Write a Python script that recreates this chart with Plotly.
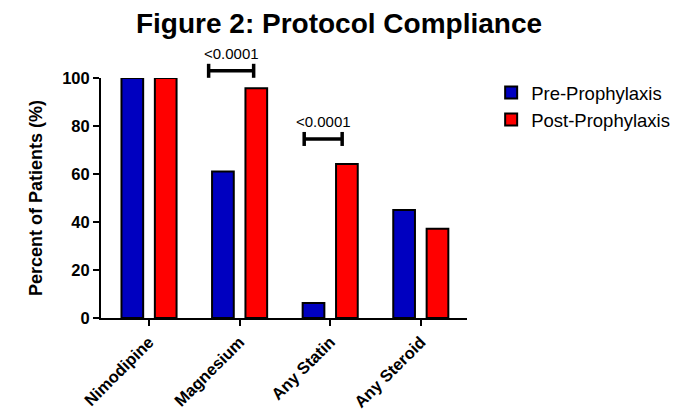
import plotly.graph_objects as go

categories = ["Nimodipine", "Magnesium", "Any Statin", "Any Steroid"]
pre_values = [100, 61.0, 6.2, 45.0]
post_values = [100, 95.7, 64.2, 37.2]
series_names = ["Pre-Prophylaxis", "Post-Prophylaxis"]
y_ticks = [0, 20, 40, 60, 80, 100]

# significance brackets: category index, level in %, label
sig_categories = [1, 2]
sig_levels = [103.0, 74.6]
sig_labels = ["<0.0001", "<0.0001"]

# bracket horizontal extents relative to category centre (style/geometry)
sig_left = [-0.342, -0.287]
sig_right = [0.155, 0.132]

FONT = "Liberation Sans, Arial, sans-serif"
YMAX = 100
PLOT_H = 240  # px height of plot area
FIG_W = 690

fig = go.Figure()
fig.add_trace(go.Bar(x=categories, y=pre_values, name=series_names[0],
                     marker=dict(color="#0000C0", line=dict(color="black", width=2))))
fig.add_trace(go.Bar(x=categories, y=post_values, name=series_names[1],
                     marker=dict(color="#FF0000", line=dict(color="black", width=2))))

shapes = []
annotations = []
for ci, lvl, lab, dl, dr in zip(sig_categories, sig_levels, sig_labels, sig_left, sig_right):
    x0 = ci + dl
    x1 = ci + dr
    yp = lvl / YMAX
    cap = 7 / PLOT_H
    shapes.append(dict(type="line", xref="x", yref="paper", x0=x0, x1=x1, y0=yp, y1=yp,
                       line=dict(color="black", width=3.5)))
    for xx in (x0, x1):
        shapes.append(dict(type="line", xref="x", yref="paper", x0=xx, x1=xx,
                           y0=yp - cap, y1=yp + cap, line=dict(color="black", width=3.5)))
    annotations.append(dict(x=(x0 + x1) / 2, y=yp + 17.5 / PLOT_H, xref="x", yref="paper",
                            text=lab, showarrow=False, yanchor="middle",
                            font=dict(family=FONT, size=15, color="black")))

fig.update_layout(
    width=FIG_W, height=404,
    margin=dict(l=93, r=FIG_W - 93 - 366, t=70, b=94),
    paper_bgcolor="white", plot_bgcolor="white",
    font=dict(family=FONT, color="black"),
    title=dict(text="<b>Figure 2: Protocol Compliance</b>", x=331 / FIG_W, xanchor="center",
               y=0.963, yanchor="middle", font=dict(size=28, family=FONT, color="black")),
    barmode="group", bargap=0.263, bargroupgap=0.35,
    showlegend=True,
    legend=dict(x=1.066, xanchor="left", y=1.017, yanchor="top",
                font=dict(size=18.5, family=FONT, color="black"),
                tracegroupgap=0, itemwidth=30),
    shapes=shapes, annotations=annotations,
)
fig.update_xaxes(range=[-0.53, 3.51], showline=True, linecolor="black", linewidth=2,
                 ticks="outside", ticklen=6, tickwidth=2, tickcolor="black",
                 tickangle=-45, tickfont=dict(size=16.5, family=FONT, color="black"),
                 showgrid=False, zeroline=False, automargin=False,
                 tickmode="array", tickvals=categories,
                 ticktext=["<b>%s</b>" % c for c in categories])
fig.update_yaxes(range=[0, YMAX], showline=True, linecolor="black", linewidth=2,
                 ticks="outside", ticklen=6, tickwidth=2, tickcolor="black",
                 tickmode="array", tickvals=y_ticks,
                 ticktext=["<b>%d</b>" % t for t in y_ticks],
                 tickfont=dict(size=16.5, family=FONT, color="black"),
                 showgrid=False, zeroline=False, automargin=False,
                 title=dict(text="<b>Percent of Patients (%)</b>", standoff=15,
                            font=dict(size=18, family=FONT, color="black")))

fig.write_html("out.html")
